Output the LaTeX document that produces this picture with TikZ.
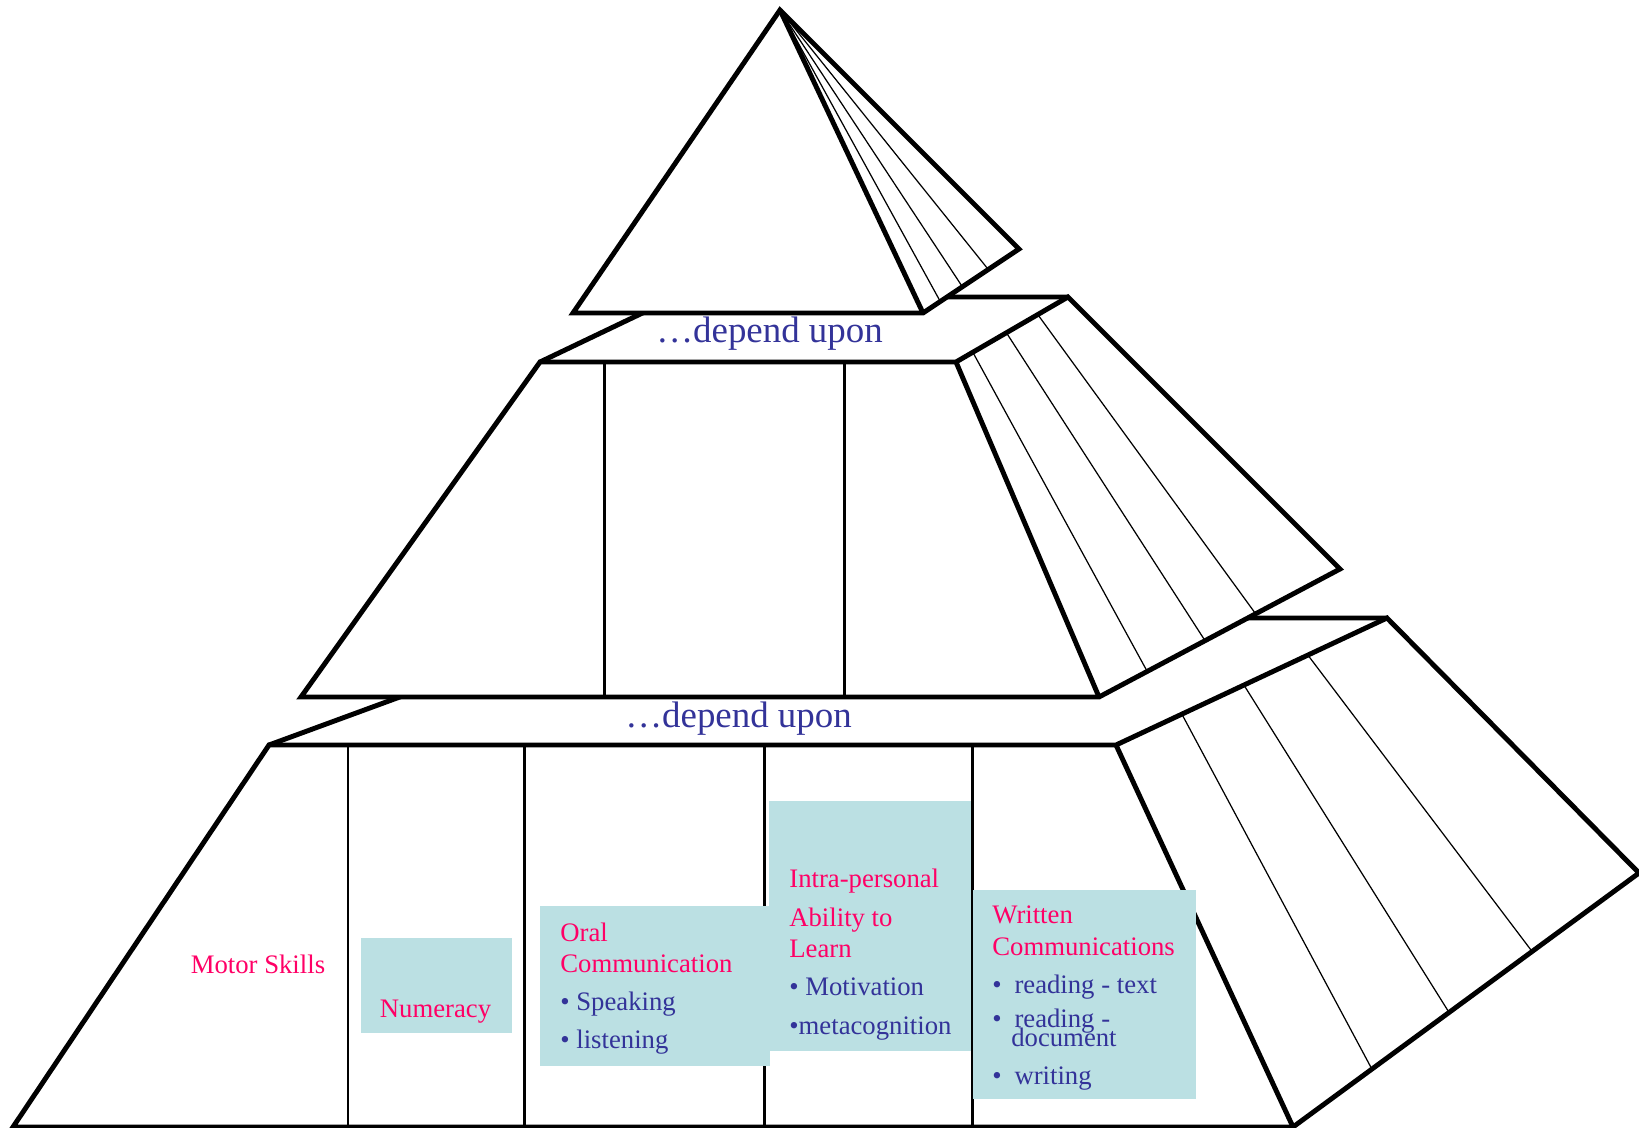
\documentclass[tikz,border=0pt]{standalone}
\usepackage{fontspec}
\setmainfont{Liberation Serif}
\usepackage{tikz}
\usetikzlibrary{calc}
\definecolor{panelteal}{HTML}{BBE0E3}
\definecolor{headpink}{HTML}{FF0066}
\definecolor{itemblue}{HTML}{333399}
\tikzset{
	tieredge/.style={line width=2.8pt},
	tierrule/.style={line width=1.7pt},
	facetline/.style={line width=0.7pt},
	panelfill/.style={fill=panelteal},
	dependtext/.style={anchor=base,inner sep=0pt,text=itemblue,font=\fontsize{21}{25}\selectfont},
	headtext/.style={anchor=base,inner sep=0pt,text=headpink,font=\fontsize{15.2}{18.2}\selectfont},
	boxtext/.style={anchor=base west,align=left,inner sep=0pt,text=itemblue,font=\fontsize{15.2}{18.2}\selectfont}
}

\begin{document}
\begin{tikzpicture}[x=0.02cm,y=-0.02cm]
    \useasboundingbox (0,0) rectangle (1639,1128);

    \coordinate (l1) at (269,745);
    \coordinate (l2) at (1116,745);
    \coordinate (l3) at (1293,1127);
    \coordinate (l4) at (13,1127);
    \coordinate (l5) at (1387,618);
    \coordinate (l6) at (1639,873);
    \coordinate (l7) at (615,618);

    \coordinate (m1) at (540,362);
    \coordinate (m2) at (956,362);
    \coordinate (m3) at (1099,697);
    \coordinate (m4) at (301,697);
    \coordinate (m5) at (1068,297);
    \coordinate (m6) at (1340,569);
    \coordinate (m7) at (676,297);

    \coordinate (t0) at (780,10);
    \coordinate (t1) at (573,313);
    \coordinate (t2) at (923,313);
    \coordinate (t3) at (1019,249);

    % bottom tier
    \draw[tieredge] (l1) -- (l7) -- (l5);
    \draw[tieredge,fill=white] (l4) -- (l1) -- (l2) -- (l5) -- (l6) -- (l3) -- cycle;
    \draw[tieredge] (l2) -- (l3);
    \foreach \x in {348,524,764,972}
        \draw[tierrule] (\x,745) -- (\x,1127);
    \foreach \a/\b in {0.243/0.228,0.472/0.451,0.708/0.691}
        \draw[facetline] ($(l2)!\a!(l5)$) -- ($(l3)!\b!(l6)$);

    % middle tier
    \draw[tieredge,fill=white] (m4) -- (m1) -- (m2) -- (m5) -- (m6) -- (m3) -- cycle;
    \draw[tieredge] (m2) -- (m3);
    \foreach \x in {604,844}
        \draw[tierrule] (\x,362) -- (\x,697);
    \foreach \a/\b in {0.15/0.20,0.45/0.44,0.73/0.65}
        \draw[facetline] ($(m2)!\a!(m5)$) -- ($(m3)!\b!(m6)$);

    % top
    \draw[tieredge] (m1) -- (m7) -- (m5);
    \draw[tieredge,fill=white] (t1) -- (t0) -- (t3) -- (t2) -- cycle;
    \foreach \t in {0.18,0.41,0.68}
        \draw[facetline] (t0) -- ($(t2)!\t!(t3)$);
    \draw[tieredge] (t0) -- (t2);

    \node[dependtext] (dep1) at (769.5,343) {…depend upon};
    \node[dependtext] (dep2) at (738.5,727) {…depend upon};

    \node[headtext] (motor) at (258,973) {Motor Skills};

    \fill[panelfill] (361,938) rectangle (512,1033);
    \node[headtext] (numeracy) at (435.5,1017) {Numeracy};

    \fill[panelfill] (540,906) rectangle (770,1066);
    \node[boxtext] (oral) at (560,1048)
        {\textcolor{headpink}{Oral}\\\textcolor{headpink}{Communication}\\[3.4pt]• Speaking\\[2.9pt]• listening};

    \fill[panelfill] (769,801) rectangle (971,1051);
    \node[boxtext] (intra) at (789,1034)
        {\textcolor{headpink}{Intra-personal}\\[4pt]\textcolor{headpink}{Ability to}\\[-0.6pt]\textcolor{headpink}{Learn}\\[3.4pt]• Motivation\\[4pt]•metacognition};

    \fill[panelfill] (973,890) rectangle (1196,1099);
    \node[boxtext] (written) at (992,1084)
        {\textcolor{headpink}{Written}\\\textcolor{headpink}{Communications}\\[2.9pt]•\hspace{0.48em}reading - text\\[1.7pt]•\hspace{0.48em}reading -\\[-7.4pt]\hspace*{0.71em}document\\[2.9pt]•\hspace{0.48em}writing};
\end{tikzpicture}
\end{document}
